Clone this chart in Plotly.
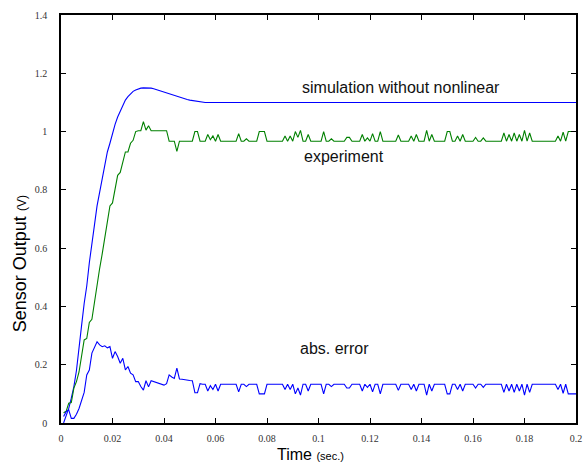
import numpy as np
import plotly.graph_objects as go

# time grid (s) for experiment and abs. error, 1 ms step
time_ms = np.round(np.arange(1, 201) * 0.001, 3)

# simulation without nonlinear (breakpoints)
sim_t = [0.001, 0.002, 0.003, 0.004, 0.005, 0.006, 0.007, 0.008, 0.009, 0.010,
         0.011, 0.012, 0.013, 0.014, 0.015, 0.016, 0.017, 0.018, 0.019, 0.020,
         0.021, 0.022, 0.023, 0.024, 0.025, 0.026, 0.027, 0.028, 0.029, 0.030,
         0.031, 0.032, 0.033, 0.034, 0.035, 0.036, 0.037, 0.038, 0.039, 0.040,
         0.041, 0.042, 0.043, 0.044, 0.045, 0.046, 0.047, 0.048, 0.049, 0.050,
         0.051, 0.052, 0.053, 0.054, 0.055, 0.056, 0.2]
sim_v = [0.0, 0.025, 0.05, 0.085, 0.125, 0.18, 0.25, 0.335, 0.41, 0.47,
         0.55, 0.625, 0.68, 0.745, 0.79, 0.84, 0.89, 0.93, 0.96, 0.995,
         1.025, 1.05, 1.07, 1.09, 1.108, 1.12, 1.13, 1.138, 1.143, 1.147,
         1.149, 1.15, 1.15, 1.15, 1.149, 1.147, 1.144, 1.142, 1.14, 1.137,
         1.134, 1.131, 1.127, 1.124, 1.12, 1.118, 1.115, 1.112, 1.11, 1.108,
         1.107, 1.105, 1.104, 1.103, 1.102, 1.1, 1.1]

experiment = [
    0.035, 0.04, 0.068, 0.07, 0.12, 0.142, 0.175, 0.23, 0.285, 0.29,
    0.345, 0.356, 0.42, 0.475, 0.53, 0.58, 0.635, 0.69, 0.745, 0.755,
    0.8, 0.85, 0.86, 0.895, 0.93, 0.93, 0.96, 0.97, 1.0, 1.003,
    1.003, 1.034, 1.005, 1.02, 1.003, 1.003, 1.003, 1.003, 1.003, 1.003,
    1.003, 0.967, 0.967, 0.967, 0.932, 0.967, 0.967, 0.967, 0.967, 0.967,
    0.967, 1.0, 1.0, 0.967, 0.967, 0.967, 0.99, 0.972, 0.985, 0.967,
    0.99, 0.967, 0.967, 0.967, 0.967, 0.967, 0.967, 0.967, 0.993, 0.967,
    0.967, 0.975, 0.967, 0.967, 0.967, 0.967, 1.0, 1.0, 1.0, 0.967,
    0.967, 0.967, 0.967, 0.967, 0.967, 0.967, 0.985, 0.967, 0.985, 0.967,
    1.0, 0.98, 1.004, 0.967, 0.967, 0.99, 0.967, 0.967, 0.967, 0.967,
    0.967, 1.0, 0.967, 0.967, 0.975, 0.967, 0.967, 0.967, 0.967, 0.967,
    0.98, 0.98, 0.967, 0.967, 0.967, 0.967, 0.99, 0.967, 0.978, 0.967,
    0.993, 0.967, 0.967, 1.0, 0.967, 0.967, 0.967, 0.967, 0.967, 0.967,
    0.988, 0.967, 0.967, 0.967, 0.967, 0.985, 0.967, 0.99, 0.967, 0.967,
    0.967, 1.004, 0.967, 0.99, 0.967, 0.967, 0.967, 0.967, 0.967, 1.0,
    1.0, 0.967, 0.967, 0.985, 0.967, 0.99, 0.967, 0.967, 0.967, 0.967,
    0.98, 0.967, 0.967, 0.978, 0.967, 0.967, 0.967, 0.967, 0.967, 0.967,
    0.967, 0.995, 0.967, 0.99, 0.967, 0.995, 0.967, 0.99, 0.967, 1.004,
    0.967, 0.995, 0.967, 0.967, 0.967, 0.967, 0.967, 0.967, 0.967, 0.967,
    0.967, 0.967, 0.985, 0.967, 0.998, 0.967, 1.0, 1.0, 1.0, 1.0,
]

abs_error = [
    0.022, 0.039, 0.045, 0.016, 0.016, 0.03, 0.05, 0.08, 0.105, 0.165,
    0.182, 0.24, 0.262, 0.279, 0.268, 0.262, 0.265, 0.258, 0.262, 0.222,
    0.245, 0.228, 0.205, 0.222, 0.182, 0.194, 0.171, 0.165, 0.142, 0.142,
    0.125, 0.113, 0.145, 0.124, 0.145, 0.142, 0.14, 0.137, 0.134, 0.13,
    0.135, 0.165, 0.158, 0.153, 0.188, 0.151, 0.15, 0.148, 0.147, 0.146,
    0.145, 0.104, 0.104, 0.135, 0.133, 0.133, 0.11, 0.128, 0.115, 0.133,
    0.11, 0.133, 0.133, 0.133, 0.133, 0.133, 0.133, 0.133, 0.107, 0.133,
    0.133, 0.125, 0.133, 0.133, 0.133, 0.133, 0.1, 0.1, 0.1, 0.133,
    0.133, 0.133, 0.133, 0.133, 0.133, 0.133, 0.115, 0.133, 0.115, 0.133,
    0.1, 0.12, 0.096, 0.133, 0.133, 0.11, 0.133, 0.133, 0.133, 0.133,
    0.133, 0.1, 0.133, 0.133, 0.125, 0.133, 0.133, 0.133, 0.133, 0.133,
    0.12, 0.12, 0.133, 0.133, 0.133, 0.133, 0.11, 0.133, 0.122, 0.133,
    0.107, 0.133, 0.133, 0.1, 0.133, 0.133, 0.133, 0.133, 0.133, 0.133,
    0.112, 0.133, 0.133, 0.133, 0.133, 0.115, 0.133, 0.11, 0.133, 0.133,
    0.133, 0.096, 0.133, 0.11, 0.133, 0.133, 0.133, 0.133, 0.133, 0.1,
    0.1, 0.133, 0.133, 0.115, 0.133, 0.11, 0.133, 0.133, 0.133, 0.133,
    0.12, 0.133, 0.133, 0.122, 0.133, 0.133, 0.133, 0.133, 0.133, 0.133,
    0.133, 0.105, 0.133, 0.11, 0.133, 0.105, 0.133, 0.11, 0.133, 0.096,
    0.133, 0.105, 0.133, 0.133, 0.133, 0.133, 0.133, 0.133, 0.133, 0.133,
    0.133, 0.133, 0.115, 0.133, 0.102, 0.133, 0.1, 0.1, 0.1, 0.1,
]

x_ticks = [0, 0.02, 0.04, 0.06, 0.08, 0.1, 0.12, 0.14, 0.16, 0.18, 0.2]
y_ticks = [0, 0.2, 0.4, 0.6, 0.8, 1, 1.2, 1.4]

labels = [
    ("simulation without nonlinear", 0.132, 1.15),
    ("experiment", 0.110, 0.913),
    ("abs. error", 0.1063, 0.257),
]

BLUE = "#0000ff"
GREEN = "#008000"

fig = go.Figure()
fig.add_trace(go.Scatter(x=sim_t, y=sim_v, mode="lines",
                         line=dict(color=BLUE, width=1.1), showlegend=False))
fig.add_trace(go.Scatter(x=time_ms, y=experiment, mode="lines",
                         line=dict(color=GREEN, width=1.1), showlegend=False))
fig.add_trace(go.Scatter(x=time_ms, y=abs_error, mode="lines",
                         line=dict(color=BLUE, width=1.1), showlegend=False))

for text, lx, ly in labels:
    fig.add_annotation(x=lx, y=ly, text=text, showarrow=False,
                       font=dict(family="Liberation Sans, Arial", size=16, color="#111"))

# axis titles
fig.add_annotation(xref="paper", yref="paper", x=0.484, y=-0.076,
                   text="Time <span style='font-size:11px'>(sec.)</span>",
                   showarrow=False, xanchor="center", yanchor="middle",
                   font=dict(family="Liberation Sans, Arial", size=16, color="black"))
fig.add_annotation(xref="paper", yref="paper", x=-0.079, y=0.39,
                   text="Sensor Output <span style='font-size:12px'>(V)</span>",
                   textangle=-90, showarrow=False, xanchor="center", yanchor="middle",
                   font=dict(family="Liberation Sans, Arial", size=18, color="black"))

axis_common = dict(showline=True, linecolor="black", linewidth=1.5, mirror="ticks",
                   ticks="inside", ticklen=5, tickwidth=1, tickcolor="black",
                   showgrid=False, zeroline=False, ticklabeloverflow="allow",
                   tickfont=dict(family="Liberation Serif, Times New Roman", size=10, color="#333"))

fig.update_layout(
    width=586, height=465,
    margin=dict(l=61, r=4, t=15, b=42),
    paper_bgcolor="white", plot_bgcolor="white",
    xaxis=dict(range=[0, 0.2], tickvals=x_ticks,
               ticktext=[("%g" % v) for v in x_ticks],
               ticklabelstandoff=5, **axis_common),
    yaxis=dict(range=[0, 1.4], tickvals=y_ticks,
               ticktext=[("%g" % v) for v in y_ticks],
               ticklabelstandoff=10, **axis_common),
)

fig.write_html("out.html", config={"displayModeBar": False},
               post_script="document.body.style.margin='0';")
